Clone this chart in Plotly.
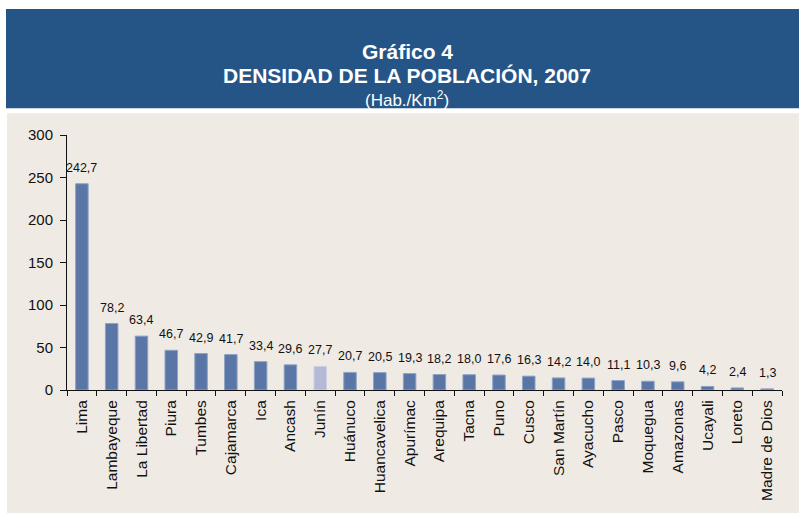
import plotly.graph_objects as go

categories = ["Lima", "Lambayeque", "La Libertad", "Piura", "Tumbes", "Cajamarca", "Ica",
              "Ancash", "Junín", "Huánuco", "Huancavelica", "Apurímac", "Arequipa", "Tacna",
              "Puno", "Cusco", "San Martín", "Ayacucho", "Pasco", "Moquegua", "Amazonas",
              "Ucayali", "Loreto", "Madre de Dios"]
values = [242.7, 78.2, 63.4, 46.7, 42.9, 41.7, 33.4, 29.6, 27.7, 20.7, 20.5, 19.3, 18.2,
          18.0, 17.6, 16.3, 14.2, 14.0, 11.1, 10.3, 9.6, 4.2, 2.4, 1.3]
labels = [f"{v:.1f}".replace(".", ",") for v in values]
y_ticks = [0, 50, 100, 150, 200, 250, 300]

highlight = "Junín"
colors = ["#B5B9D6" if c == highlight else "#5A76A6" for c in categories]
edges = ["#CDD0E4" if c == highlight else "#8EA2C6" for c in categories]

W, H = 799, 513
L, R, T, B = 67, 782, 135, 392
pw, ph = R - L, B - T


def px(x):
    return (x - L) / pw


def py(y):
    return (B - y) / ph


fig = go.Figure()
fig.add_trace(go.Bar(
    x=categories, y=values,
    marker=dict(color=colors, line=dict(color=edges, width=1)),
    width=0.42, hoverinfo="x+y",
))

for c, v, t in zip(categories, values, labels):
    fig.add_annotation(x=c, y=v, text=t, showarrow=False, yanchor="bottom",
                       yshift=7, font=dict(family="Liberation Sans", size=12.5, color="#111111"))

shapes = [
    dict(type="rect", xref="paper", yref="paper", x0=px(6), x1=px(805), y0=py(108), y1=py(8),
         fillcolor="#255587", line=dict(width=0), layer="below"),
    dict(type="rect", xref="paper", yref="paper", x0=px(7), x1=px(805), y0=py(520), y1=py(113),
         fillcolor="#F0EAE4", line=dict(width=0), layer="below"),
]

fig.add_annotation(xref="paper", yref="paper", x=px(407), y=py(37.5), text="<b>Gráfico 4</b>",
                   showarrow=False, font=dict(family="Liberation Sans", size=21, color="white"))
fig.add_annotation(xref="paper", yref="paper", x=px(407), y=py(61.5),
                   text="<b>DENSIDAD DE LA POBLACIÓN, 2007</b>",
                   showarrow=False, font=dict(family="Liberation Sans", size=21, color="white"))
fig.add_annotation(xref="paper", yref="paper", x=px(407), y=py(86), text="(Hab./Km<sup>2</sup>)",
                   showarrow=False, font=dict(family="Liberation Sans", size=17, color="white"))

fig.update_layout(
    width=W, height=H,
    margin=dict(l=L, r=W - R, t=T, b=H - B, pad=0),
    paper_bgcolor="white", plot_bgcolor="rgba(0,0,0,0)",
    shapes=shapes, showlegend=False,
    font=dict(family="Liberation Sans, Arial", size=15, color="#111111"),
    xaxis=dict(tickangle=-90, showline=True, linecolor="#111111", linewidth=1,
               ticks="outside", tickson="boundaries", ticklen=5, tickcolor="#111111",
               ticklabelstandoff=3,
               showgrid=False, zeroline=False, fixedrange=True,
               tickfont=dict(size=15.5), range=[-0.5, len(categories) - 0.5]),
    yaxis=dict(range=[0, 300], tickvals=y_ticks, showline=True, linecolor="#111111",
               linewidth=1, ticks="outside", ticklen=6, tickcolor="#111111",
               ticklabelstandoff=4,
               showgrid=False, zeroline=False, tickfont=dict(size=15)),
)

fig.write_html("out.html", config={"displayModeBar": False},
               post_script="document.body.style.margin='0';")
